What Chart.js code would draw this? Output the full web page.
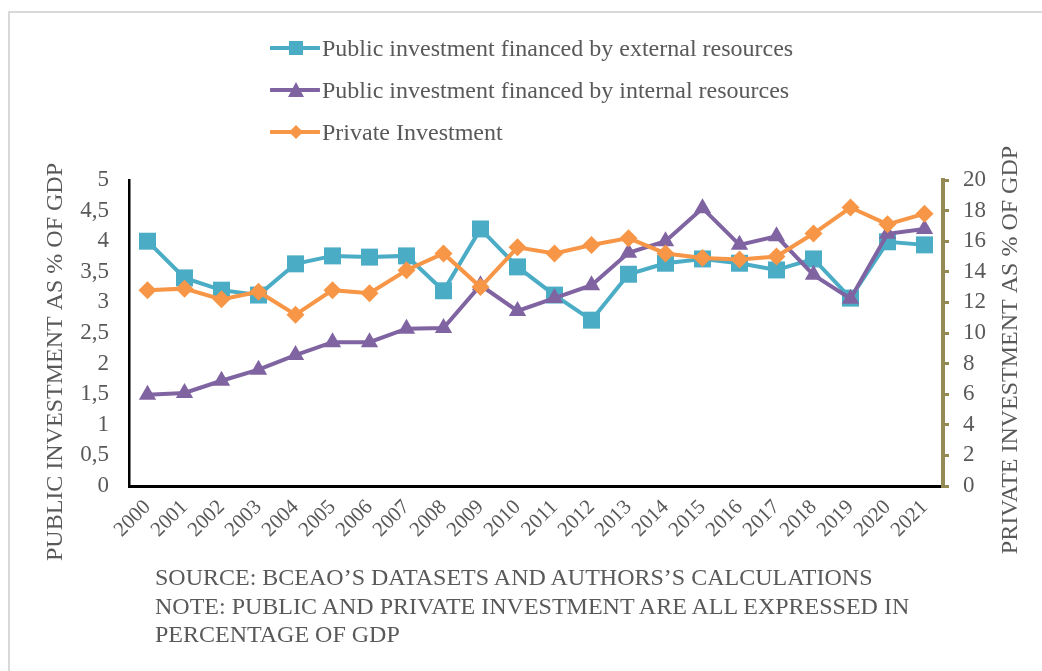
<!DOCTYPE html>
<html lang="en">
<head>
    <meta charset="UTF-8">
    <title>Public and Private Investment</title>
    <script src="https://cdn.jsdelivr.net/npm/chart.js"></script>
    <style>
        body {
            margin: 0;
            width: 1042px;
            height: 671px;
            overflow: hidden;
            background: #fff;
            font-family: "Liberation Serif", "Times New Roman", serif;
            color: #595959;
            position: relative;
        }
        .frame {
            position: absolute;
            left: 8px;
            top: 11px;
            width: 1100px;
            height: 700px;
            border-left: 2px solid #d9d9d9;
            border-top: 2px solid #d9d9d9;
        }
        #chart {
            position: absolute;
            left: 0;
            top: 0;
        }
        .legend {
            position: absolute;
            left: 270px;
            top: 27px;
            font-size: 24px;
        }
        .legend .row {
            display: flex;
            align-items: center;
            height: 42px;
        }
        .legend svg {
            margin-right: 2px;
        }
        .note {
            position: absolute;
            left: 155px;
            top: 563px;
            font-size: 24px;
            line-height: 28.5px;
        }
    </style>
</head>
<body>
    <div class="frame"></div>
    <canvas id="chart" width="1042" height="671"></canvas>

    <div class="legend">
        <div class="row">
            <svg width="50" height="20"><line x1="1" y1="10" x2="49" y2="10" stroke="#4bacc6" stroke-width="4" stroke-linecap="round"/><rect x="19" y="3" width="14" height="14" fill="#4bacc6"/></svg>
            <span>Public investment financed by external resources</span>
        </div>
        <div class="row">
            <svg width="50" height="20"><line x1="1" y1="10" x2="49" y2="10" stroke="#8064a2" stroke-width="4" stroke-linecap="round"/><polygon points="26,2 34,17 18,17" fill="#8064a2"/></svg>
            <span>Public investment financed by internal resources</span>
        </div>
        <div class="row">
            <svg width="50" height="20"><line x1="1" y1="10" x2="49" y2="10" stroke="#f79646" stroke-width="4" stroke-linecap="round"/><polygon points="26,3 33,10 26,17 19,10" fill="#f79646"/></svg>
            <span>Private Investment</span>
        </div>
    </div>

    <div class="note">
        SOURCE: BCEAO’S DATASETS AND AUTHORS’S CALCULATIONS<br>
        NOTE: PUBLIC AND PRIVATE INVESTMENT ARE ALL EXPRESSED IN<br>
        PERCENTAGE OF GDP
    </div>

    <script>
        // Data
        const years = ['2000', '2001', '2002', '2003', '2004', '2005', '2006', '2007', '2008', '2009', '2010',
                       '2011', '2012', '2013', '2014', '2015', '2016', '2017', '2018', '2019', '2020', '2021'];

        const externalPublic = [4.0, 3.40, 3.20, 3.12, 3.63, 3.76, 3.74, 3.76, 3.19, 4.20, 3.58,
                                3.12, 2.71, 3.46, 3.64, 3.71, 3.64, 3.53, 3.71, 3.07, 3.99, 3.94];

        const internalPublic = [1.49, 1.52, 1.72, 1.90, 2.14, 2.35, 2.35, 2.57, 2.58, 3.28, 2.86,
                                3.07, 3.28, 3.81, 4.00, 4.54, 3.94, 4.08, 3.45, 3.06, 4.12, 4.20];

        const privateInvest = [12.8, 12.9, 12.2, 12.7, 11.2, 12.8, 12.6, 14.1, 15.2, 13.0, 15.6,
                               15.2, 15.75, 16.2, 15.2, 14.9, 14.8, 15.0, 16.5, 18.2, 17.1, 17.8];

        const leftTitle = 'PUBLIC INVESTMENT AS % OF GDP';
        const rightTitle = 'PRIVATE INVESTMENT AS % OF GDP';

        const textColor = '#595959';
        const serif = '"Liberation Serif", "Times New Roman", serif';

        // axis titles, centred a bit lower like the original (includes the tick label band)
        const axisTitles = {
            id: 'axisTitles',
            afterDraw(chart) {
                const ctx = chart.ctx;
                const area = chart.chartArea;
                const midY = (area.top + area.bottom) / 2 + 29;
                ctx.save();
                ctx.fillStyle = textColor;
                ctx.font = '24px ' + serif;
                ctx.textAlign = 'center';
                ctx.textBaseline = 'middle';

                ctx.save();
                ctx.translate(area.left - 73, midY);
                ctx.rotate(-Math.PI / 2);
                ctx.fillText(leftTitle, 0, 0);
                ctx.restore();

                ctx.save();
                ctx.translate(area.right + 68, midY - 12);
                ctx.rotate(-Math.PI / 2);
                ctx.fillText(rightTitle, 0, 0);
                ctx.restore();

                ctx.restore();
            }
        };

        const ctx = document.getElementById('chart').getContext('2d');
        const myChart = new Chart(ctx, {
            type: 'line',
            data: {
                labels: years,
                datasets: [
                    {
                        label: 'Public investment financed by external resources',
                        data: externalPublic,
                        yAxisID: 'y',
                        borderColor: '#4bacc6',
                        backgroundColor: '#4bacc6',
                        borderWidth: 4,
                        pointStyle: 'rect',
                        pointRadius: 12,
                        pointBorderWidth: 0,
                        tension: 0,
                        order: 3
                    },
                    {
                        label: 'Public investment financed by internal resources',
                        data: internalPublic,
                        yAxisID: 'y',
                        borderColor: '#8064a2',
                        backgroundColor: '#8064a2',
                        borderWidth: 4,
                        pointStyle: 'triangle',
                        pointRadius: 10,
                        pointBorderWidth: 0,
                        tension: 0,
                        order: 2
                    },
                    {
                        label: 'Private Investment',
                        data: privateInvest,
                        yAxisID: 'y1',
                        borderColor: '#f79646',
                        backgroundColor: '#f79646',
                        borderWidth: 4,
                        pointStyle: 'rectRot',
                        pointRadius: 9,
                        pointBorderWidth: 0,
                        tension: 0,
                        order: 1
                    }
                ]
            },
            options: {
                responsive: false,
                animation: false,
                layout: {
                    padding: { top: 180, left: 0, right: 0, bottom: 0 }
                },
                plugins: {
                    legend: { display: false },
                    tooltip: { enabled: false }
                },
                scales: {
                    x: {
                        offset: true,
                        grid: { display: false, drawTicks: false },
                        border: { display: true, color: '#000', width: 3 },
                        ticks: {
                            autoSkip: false,
                            minRotation: 45,
                            maxRotation: 45,
                            padding: 9,
                            color: textColor,
                            font: { family: serif, size: 21 }
                        },
                        afterFit: scale => { scale.height = 185; }
                    },
                    y: {
                        position: 'left',
                        min: 0,
                        max: 5,
                        grid: { display: false, drawTicks: false },
                        border: { display: true, color: '#000', width: 2.5 },
                        ticks: {
                            stepSize: 0.5,
                            padding: 20,
                            color: textColor,
                            font: { family: serif, size: 23 },
                            callback: v => String(v).replace('.', ',')
                        },
                        afterFit: scale => { scale.width = 129; }
                    },
                    y1: {
                        position: 'right',
                        min: 0,
                        max: 20,
                        grid: {
                            drawOnChartArea: false,
                            color: '#948a54',
                            lineWidth: 3,
                            tickLength: 6
                        },
                        border: { display: true, color: '#948a54', width: 4 },
                        ticks: {
                            stepSize: 2,
                            padding: 14,
                            color: textColor,
                            font: { family: serif, size: 23 }
                        },
                        afterFit: scale => { scale.width = 99; }
                    }
                }
            },
            plugins: [axisTitles]
        });
    </script>
</body>
</html>
